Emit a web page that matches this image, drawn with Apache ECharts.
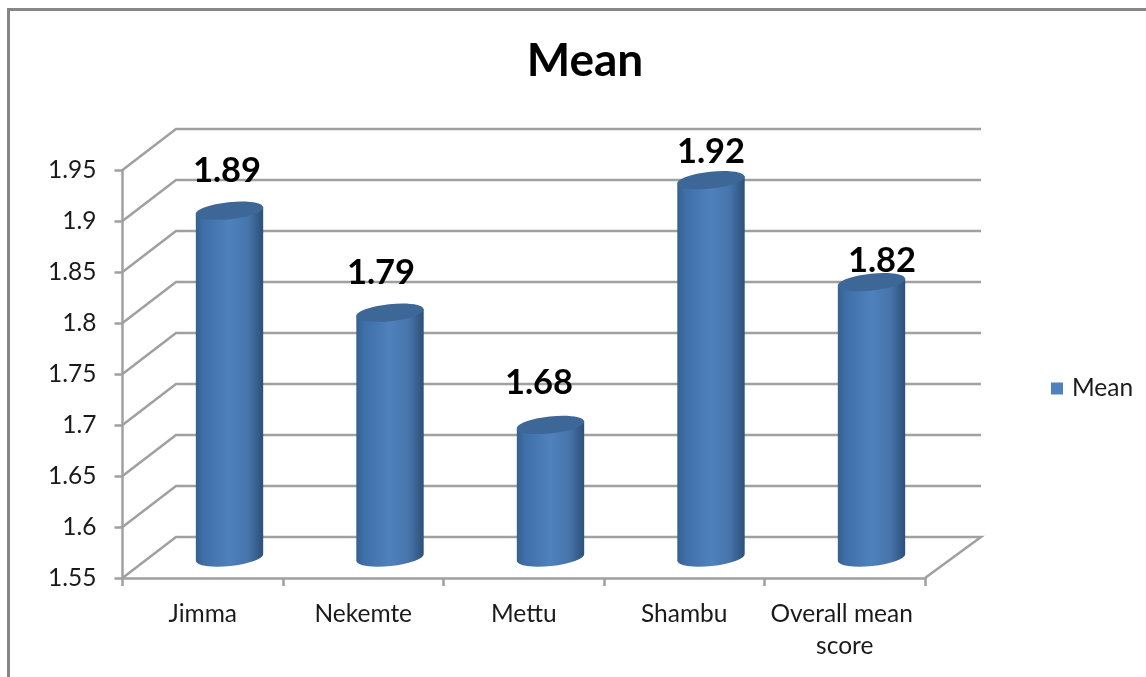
<!DOCTYPE html>
<html>
<head>
<meta charset="utf-8">
<style>html,body{margin:0;padding:0;background:#fff}#chart{width:1146px;height:677px}</style>
<script src="https://cdn.jsdelivr.net/npm/echarts@6/dist/echarts.min.js"></script>
</head>
<body>
<div id="chart"></div>
<script>
// Mean score per site
const categories = ['Jimma', 'Nekemte', 'Mettu', 'Shambu', 'Overall mean score'];
const meanValues = [1.89, 1.79, 1.68, 1.92, 1.82];
const yTicks = [1.55, 1.6, 1.65, 1.7, 1.75, 1.8, 1.85, 1.9, 1.95];

// Hand-placed value labels: shift from the cylinder top centre, in pixels
const labelShiftX = [-2.5, -9, -11.5, 0, 10.5];
const labelShiftY = [-40, -40, -42.5, -28, -21.5];

// Oblique projection of the box the cylinders stand in
const DEPTH_X = 53.5, DEPTH_Y = -41, BACK_EXTRA = 2.5;
const GREY = '#a0a0a0';
const LINE_W = 2.5;
const FONT = 'Lato, "Open Sans", sans-serif';
const TILT = 6;

function renderWalls(params, api) {
  const cs = params.coordSys;
  const y = api.coord([0, api.value(0)])[1];
  const left = cs.x, right = cs.x + cs.width;
  const points = [[left, y], [left + DEPTH_X, y + DEPTH_Y], [right + DEPTH_X + BACK_EXTRA, y + DEPTH_Y]];
  // The floor also closes along its right-hand edge
  if (params.dataIndex === 0) points.push([right, y]);
  return {
    type: 'polyline',
    shape: { points: points },
    style: { fill: 'none', stroke: GREY, lineWidth: LINE_W }
  };
}

function renderCylinder(params, api) {
  const i = params.dataIndex;
  const top = api.coord([i, api.value(1)]);
  const base = api.coord([i, yTicks[0]]);
  const cx = top[0] + DEPTH_X / 2;
  const topY = top[1] + DEPTH_Y / 2;
  const baseY = base[1] + DEPTH_Y / 2;
  const rx = api.size([1, 0])[0] * 0.211;
  const ry = 8.5;
  const rad = TILT * Math.PI / 180;
  const dx = rx * Math.cos(rad), dy = rx * Math.sin(rad);
  const body = 'M' + (cx - dx) + ' ' + (topY + dy) +
    'L' + (cx - dx) + ' ' + (baseY + dy) +
    'A' + rx + ' ' + ry + ' ' + (-TILT) + ' 0 0 ' + (cx + dx) + ' ' + (baseY - dy) +
    'L' + (cx + dx) + ' ' + (topY - dy) + 'Z';
  return {
    type: 'group',
    children: [
      {
        type: 'path',
        shape: { pathData: body },
        style: {
          fill: new echarts.graphic.LinearGradient(0, 0, 1, 0, [
            { offset: 0, color: '#34608f' },
            { offset: 0.12, color: '#3f6fa8' },
            { offset: 0.5, color: '#4f81bd' },
            { offset: 0.78, color: '#4674aa' },
            { offset: 1, color: '#2c4f78' }
          ])
        }
      },
      {
        type: 'ellipse',
        x: cx, y: topY, rotation: rad,
        shape: { cx: 0, cy: 0, rx: rx, ry: ry },
        style: { fill: '#3c6797' }
      },
      {
        type: 'text',
        style: {
          x: cx + labelShiftX[i], y: topY + labelShiftY[i],
          text: api.value(1).toFixed(2),
          font: 'bold 34.5px ' + FONT, fill: '#000',
          textAlign: 'center', textVerticalAlign: 'middle'
        }
      }
    ]
  };
}

const chart = echarts.init(document.getElementById('chart'), null, { renderer: 'canvas' });
chart.setOption({
  animation: false,
  backgroundColor: '#fff',
  title: {
    text: 'Mean', left: 580, top: 33, textAlign: 'center',
    textStyle: { fontFamily: FONT, fontWeight: 'bold', fontSize: 46, color: '#000' }
  },
  legend: {
    data: ['Mean'], left: 1046, top: 371, icon: 'rect', itemWidth: 12, itemHeight: 12,
    textStyle: { fontFamily: FONT, fontSize: 24.5, color: '#1a1a1a', padding: [0, 0, 0, 4] }
  },
  grid: { left: 122.5, right: 221, top: 170, bottom: 99 },
  xAxis: {
    type: 'category', data: categories,
    axisLine: { lineStyle: { color: GREY, width: LINE_W } },
    axisTick: { show: true, length: 8, lineStyle: { color: GREY, width: LINE_W } },
    axisLabel: {
      fontFamily: FONT, fontSize: 24.5, color: '#1a1a1a', margin: 20, lineHeight: 32,
      width: 158, overflow: 'break', interval: 0
    }
  },
  yAxis: {
    type: 'value', min: 1.55, max: 1.95, interval: 0.05,
    axisLine: { show: true, lineStyle: { color: GREY, width: LINE_W } },
    axisTick: { show: true, length: 8, lineStyle: { color: GREY, width: LINE_W } },
    axisLabel: { fontFamily: FONT, fontSize: 24.5, color: '#1a1a1a', margin: 26 },
    splitLine: { show: false }
  },
  graphic: [{
    type: 'polyline', silent: true,
    shape: { points: [[8.5, 677], [8.5, 9.5], [1146, 9.5]] },
    style: { fill: 'none', stroke: '#868686', lineWidth: 3 }
  }],
  series: [
    {
      name: 'walls', type: 'custom', renderItem: renderWalls, clip: false, silent: true, z: 1,
      data: yTicks.map(v => [v]), encode: { y: 0 }
    },
    {
      name: 'Mean', type: 'custom', renderItem: renderCylinder, clip: false, z: 3,
      itemStyle: { color: '#4f81bd' },
      data: meanValues.map((v, i) => [i, v]), encode: { x: 0, y: 1 }
    }
  ]
});
</script>
</body>
</html>
